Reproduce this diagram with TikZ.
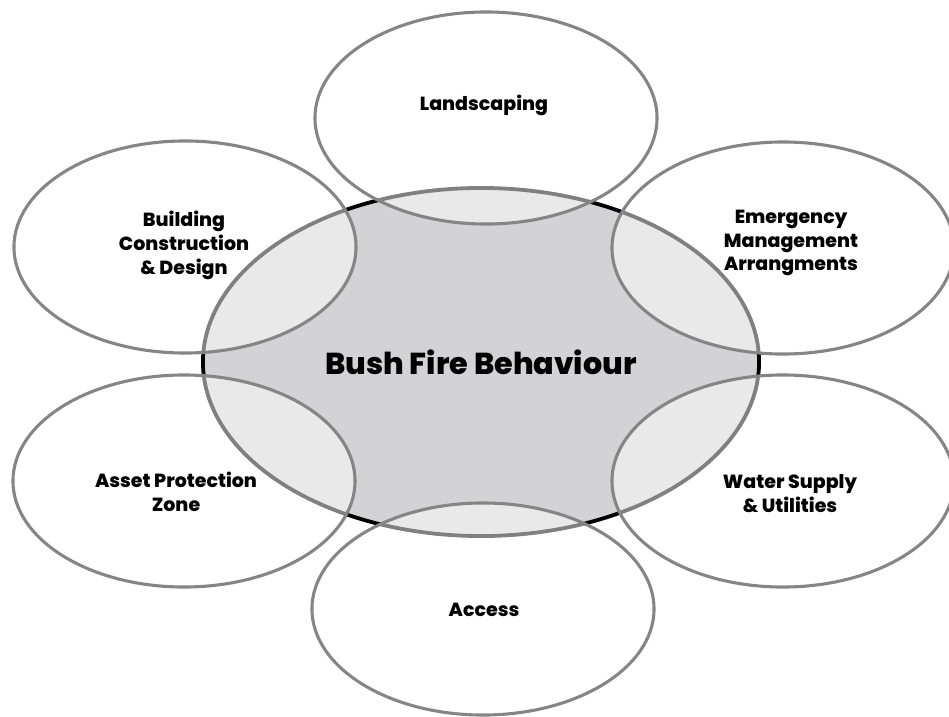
\documentclass[tikz,border=0pt]{standalone}
\usepackage{fontspec}
\setmainfont{Poppins}[BoldFont={Poppins ExtraBold}]
\usetikzlibrary{calc,shapes.geometric}
\definecolor{corefill}{HTML}{D3D3D5}
\definecolor{petaldraw}{HTML}{858585}
\tikzset{
  core/.style={ellipse,draw=black,line width=2.7pt,fill=corefill,
    minimum width=13.9cm,minimum height=8.7cm,inner sep=0pt},
  petal/.style={ellipse,draw=petaldraw,line width=2.2pt,fill=white,
    fill opacity=.5,minimum width=8.55cm,minimum height=5.3cm,inner sep=0pt},
  lbl/.style={font=\bfseries\fontsize{13.5}{17}\selectfont,align=center},
  corelbl/.style={font=\bfseries\fontsize{21.5}{26}\selectfont}
}
\begin{document}
\begin{tikzpicture}[x=0.025cm,y=-0.025cm]
  \useasboundingbox (0,0) rectangle (949,717);

  % centre and the six petals
  \node[core] (fire) at (481,362) {};
  \node[petal] (land) at (486,118) {};
  \node[petal] (build) at (185,247) {};
  \node[petal] (emerg) at (783,248) {};
  \node[petal] (asset) at (184,481) {};
  \node[petal] (water) at (783,481) {};
  \node[petal] (access) at (483,609) {};

  % texts
  \node[corelbl] (firetxt) at (fire) {Bush Fire Behaviour};
  \node[lbl] (landtxt) at ($(land)+(-2,-13)$) {Landscaping};
  \node[lbl] (buildtxt) at ($(build)+(-1,-2)$) {Building\\Construction\\\& Design};
  \node[lbl] (emergtxt) at ($(emerg)+(8,-5)$) {Emergency\\Management\\Arrangments};
  \node[lbl] (assettxt) at ($(asset)+(-8,11)$) {Asset Protection\\Zone};
  \node[lbl] (watertxt) at ($(water)+(7,13)$) {Water Supply\\\& Utilities};
  \node[lbl] (accesstxt) at ($(access)+(1,1)$) {Access};
\end{tikzpicture}
\end{document}
